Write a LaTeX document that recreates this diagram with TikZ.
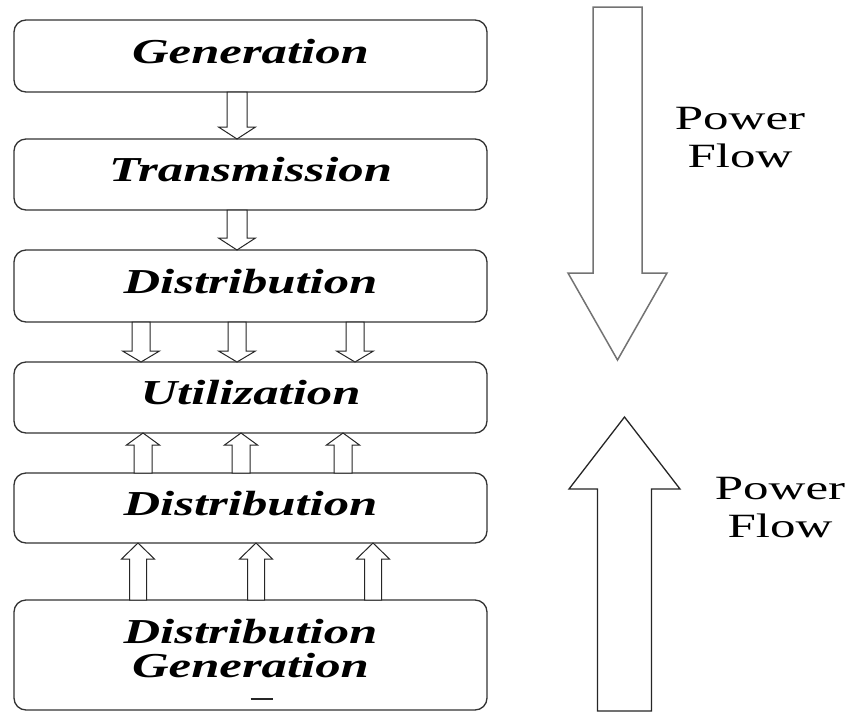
\documentclass[tikz,border=0pt]{standalone}
\usepackage{fontspec}
\setmainfont{Liberation Serif}
\usepackage{graphicx}
\usetikzlibrary{calc}

% horizontally stretched text
\newcommand{\hstretch}[2][1.45]{\scalebox{#1}[1]{#2}}

% hollow block arrow: x, from, to, shaft half width, head half width, head length
\newcommand{\blockarrow}[7][]{%
  \filldraw[fill=white, line join=miter, #1]
    let \p1=(#3), \p2=(#4), \n1={\y2-sign(\y2-\y1)*#7} in
    (#2-#5,\y1) -- (#2-#5,\n1) -- (#2-#6,\n1) -- (#2,\y2)
    -- (#2+#6,\n1) -- (#2+#5,\n1) -- (#2+#5,\y1) -- cycle;
}

\begin{document}
\begin{tikzpicture}[x=1pt, y=-1pt,
    box/.style={draw=black!80, line width=1.3pt, rounded corners=12pt,
      minimum width=473pt, minimum height=71pt, inner sep=0pt, outer sep=0pt,
      text height=23pt, text depth=9pt,
      font=\fontsize{35}{34}\selectfont\bfseries\itshape},
    small/.style={draw=black!85, line width=1pt},
    flowtext/.style={align=center, font=\fontsize{34}{38}\selectfont}]
  \useasboundingbox (0,0) rectangle (847,713);

  % stages, top to bottom
  \node[box, minimum height=72pt] (gen) at (250.5,56) {\hstretch{Generation}};
  \node[box] (trans) at (250.5,174.5) {\hstretch{Transmission}};
  \node[box, minimum height=72pt] (dist) at (250.5,286) {\hstretch{Distribution}};
  \node[box] (util) at (250.5,397.5) {\hstretch{Utilization}};
  \node[box, minimum height=70pt] (dist2) at (250.5,508) {\hstretch{Distribution}};
  \node[box, minimum height=110pt, align=center, text height=57pt, text depth=13pt]
    (dg) at (250.5,655) {\hstretch{Distribution}\\\hstretch{Generation}};
  \draw[line width=1.8pt, black!85] ($(dg.south)+(0,-11)$) -- ++(22,0);

  % arrows between the stages
  \blockarrow[small]{237pt}{gen.south}{trans.north}{10pt}{18.5pt}{12pt}
  \blockarrow[small]{237pt}{trans.south}{dist.north}{10pt}{18.5pt}{12pt}
  \foreach \px in {141,237,355}
    {\blockarrow[small]{\px pt}{dist.south}{util.north}{9pt}{18.5pt}{11pt}}
  \foreach \px in {143,241,343}
    {\blockarrow[small]{\px pt}{dist2.north}{util.south}{9pt}{16.5pt}{12pt}}
  \foreach \px in {138,256,373}
    {\blockarrow[small]{\px pt}{dg.north}{dist2.south}{8.5pt}{16.5pt}{16pt}}

  % power flow directions
  \coordinate (downtop) at (617.5,7);
  \coordinate (downtip) at (617.5,360);
  \blockarrow[draw=black!55, line width=1.5pt]{617.5pt}{downtop}{downtip}{24.5pt}{49.5pt}{87pt}
  \coordinate (upfoot) at (624.5,711);
  \coordinate (uptip) at (624.5,417);
  \blockarrow[draw=black!85, line width=1.3pt]{624.5pt}{upfoot}{uptip}{27pt}{55.5pt}{72pt}

  \node[flowtext] (pf1) at (740,137.5) {\hstretch[1.5]{Power}\\\hstretch[1.5]{Flow}};
  \node[flowtext] (pf2) at (780,507.5) {\hstretch[1.5]{Power}\\\hstretch[1.5]{Flow}};
\end{tikzpicture}
\end{document}
